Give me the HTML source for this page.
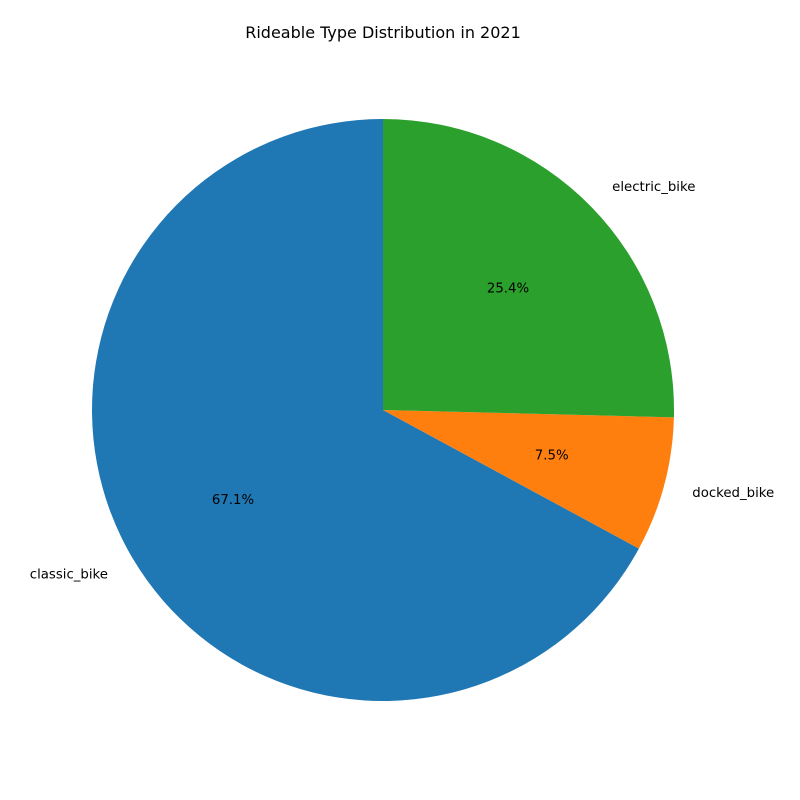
<!DOCTYPE html>
<html><head><meta charset="utf-8"><style>
body{margin:0;background:#fff;}
svg{display:block;font-family:"DejaVu Sans","Liberation Sans",sans-serif;}
</style></head><body>
<svg id="chart" width="800" height="800">
<rect width="800" height="800" fill="#fff"/>
<text x="383" y="38" text-anchor="middle" font-size="16" fill="#000">Rideable Type Distribution in 2021</text>
</svg>
<script>
const categories = ["classic_bike", "docked_bike", "electric_bike"];
const values = [67.1, 7.5, 25.4];
const colors = ["#1f77b4", "#ff7f0e", "#2ca02c"];
const cx = 383, cy = 410, r = 291;
const svg = document.getElementById('chart');
const NS = 'http://www.w3.org/2000/svg';
const total = values.reduce((a, b) => a + b, 0);
let start = 90;
function pt(deg, rad) { const a = deg * Math.PI / 180; return [cx + rad * Math.cos(a), cy - rad * Math.sin(a)]; }
values.forEach((v, i) => {
  const sweep = v / total * 360;
  const end = start + sweep;
  const [x1, y1] = pt(start, r), [x2, y2] = pt(end, r);
  const large = sweep > 180 ? 1 : 0;
  const p = document.createElementNS(NS, 'path');
  p.setAttribute('d', `M${cx},${cy} L${x1},${y1} A${r},${r} 0 ${large} 0 ${x2},${y2} Z`);
  p.setAttribute('fill', colors[i]);
  
  
  svg.appendChild(p);
  const mid = start + sweep / 2;
  const [lx, ly] = pt(mid, r * 1.1);
  const t = document.createElementNS(NS, 'text');
  t.setAttribute('x', lx); t.setAttribute('y', ly + 4.5);
  t.setAttribute('font-size', '13.3');
  t.setAttribute('text-anchor', Math.cos(mid * Math.PI / 180) < 0 ? 'end' : 'start');
  t.textContent = categories[i];
  
  
  svg.appendChild(t);
  const [px, py] = pt(mid, r * 0.6);
  const pc = document.createElementNS(NS, 'text');
  pc.setAttribute('x', px); pc.setAttribute('y', py + 4.5);
  pc.setAttribute('font-size', '13.3');
  pc.setAttribute('text-anchor', 'middle');
  pc.textContent = v.toFixed(1) + '%';
  
  
  svg.appendChild(pc);
  start = end;
});
</script>
</body></html>
